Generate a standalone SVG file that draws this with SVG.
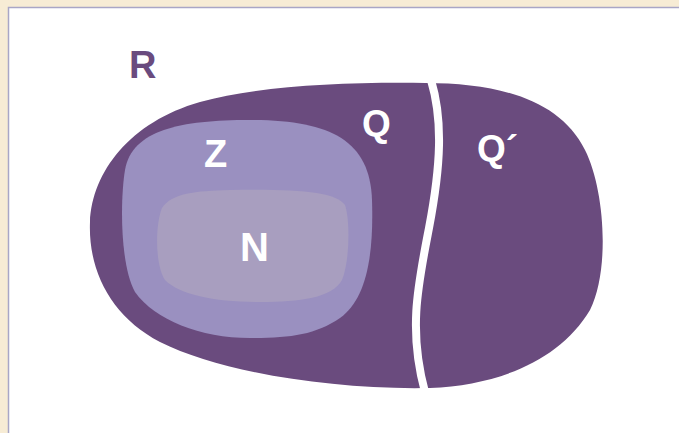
<svg xmlns="http://www.w3.org/2000/svg" width="679" height="433" viewBox="0 0 679 433">
  <style>
    .lbl { font-family: "Liberation Sans", Arial, sans-serif; font-weight: bold; fill: #ffffff; }
    .dark { fill: #6a4b7e; }
  </style>
  <rect x="0" y="0" width="679" height="433" fill="#f7ecd5"/>
  <rect x="8.5" y="7.5" width="680" height="430" fill="#ffffff" stroke="#a9a6c6" stroke-width="1.5"/>
  <g id="R">
    <path class="dark" d="M 425 83 C 500 83, 560 100, 585 150 C 605 190, 610 270, 590 310 C 560 360, 500 385, 430 388 C 330 390, 220 372, 160 342 C 112 317, 88 272, 90 222 C 92 172, 130 122, 200 102 C 260 86, 340 82, 425 83 Z"/>
    <text class="lbl" x="129" y="78" font-size="38" fill="#6a4b7e" style="fill:#6a4b7e">R</text>
  </g>
  <g id="Q">
    <text class="lbl" x="362" y="136" font-size="37">Q</text>
  </g>
  <g id="Qprime">
    <text class="lbl" x="477" y="161" font-size="37">Q´</text>
  </g>
  <g id="divider">
    <path d="M 431 80 C 443 120, 441 165, 429 228 C 418 285, 408 330, 425 392" fill="none" stroke="#ffffff" stroke-width="8"/>
  </g>
  <g id="Z">
    <path fill="#9a90c0" d="M 250 120 C 330 120, 370 140, 372 200 C 374 260, 365 300, 340 318 C 315 335, 290 338, 250 338 C 200 338, 155 320, 135 292 C 120 265, 120 200, 125 170 C 132 130, 180 120, 250 120 Z"/>
    <text class="lbl" x="204" y="167" font-size="38">Z</text>
  </g>
  <g id="N">
    <path fill="#a89ebf" d="M 230 190 C 300 189, 335 192, 345 205 C 350 220, 350 260, 342 280 C 332 298, 300 302, 260 302 C 215 302, 180 295, 165 280 C 155 265, 155 225, 162 208 C 172 193, 195 191, 230 190 Z"/>
    <text class="lbl" x="240" y="261" font-size="40">N</text>
  </g>
</svg>
